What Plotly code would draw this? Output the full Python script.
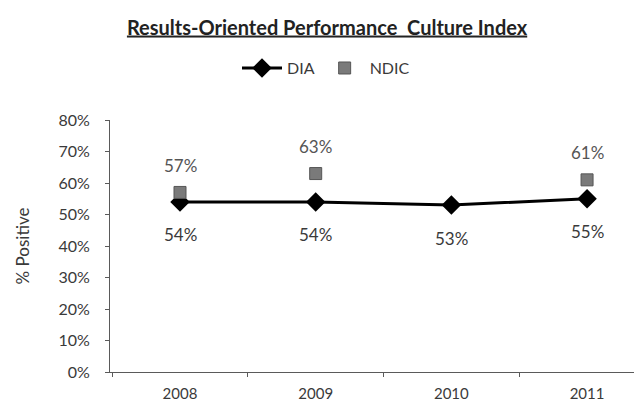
import plotly.graph_objects as go

years = ["2008", "2009", "2010", "2011"]
dia = [0.54, 0.54, 0.53, 0.55]
ndic_years = ["2008", "2009", "2011"]
ndic = [0.57, 0.63, 0.61]
y_ticks = [0, 0.1, 0.2, 0.3, 0.4, 0.5, 0.6, 0.7, 0.8]

FONT = "Lato, 'Open Sans', sans-serif"
TEXT = "#3a3a3a"
AXIS = "#5a5a5a"

fig = go.Figure()

fig.add_trace(go.Scatter(
    x=years, y=dia, name="DIA", mode="lines+markers",
    line=dict(color="#000000", width=3),
    marker=dict(symbol="diamond", size=15, color="#000000"),
))
fig.add_trace(go.Scatter(
    x=ndic_years, y=ndic, name="NDIC", mode="markers",
    marker=dict(symbol="square", size=12, color="#7a7a7a",
                line=dict(color="#555555", width=1)),
))

# data labels: DIA below the points, NDIC above
# (category index used for x, numeric-looking names confuse annotations)
for x, v in zip(years, dia):
    fig.add_annotation(x=years.index(x), y=v, text=f"{v:.0%}", showarrow=False,
                       yshift=-33, font=dict(family=FONT, size=17, color=TEXT))
for x, v in zip(ndic_years, ndic):
    fig.add_annotation(x=years.index(x), y=v, text=f"{v:.0%}", showarrow=False,
                       yshift=27, font=dict(family=FONT, size=17, color="#555555"))

fig.update_layout(
    width=642, height=407,
    margin=dict(l=102, r=0, t=112, b=43),
    paper_bgcolor="white", plot_bgcolor="white",
    font=dict(family=FONT, size=16, color=TEXT),
    title=dict(
        text="<b><u>Results-Oriented Performance  Culture Index</u></b>",
        x=0.497, xref="container", xanchor="center",
        y=0.952, yref="container", yanchor="middle",
        font=dict(family=FONT, size=20, color="#222222"),
    ),
    showlegend=True,
    legend=dict(
        orientation="h", x=0.40, xanchor="center", y=1.206, yanchor="middle",
        font=dict(family=FONT, size=16, color=TEXT),
        itemwidth=40, bgcolor="rgba(0,0,0,0)",
    ),
)

fig.update_xaxes(
    type="category", range=[-0.516, 3.464],
    showline=True, linecolor=AXIS, linewidth=1,
    ticks="outside", tickson="boundaries", ticklen=4, tickcolor=AXIS,
    showgrid=False, zeroline=False,
    ticklabelstandoff=8,
    tickfont=dict(family=FONT, size=15, color=TEXT),
)
fig.update_yaxes(
    range=[0, 0.8], tickvals=y_ticks, tickformat=".0%",
    showline=True, linecolor=AXIS, linewidth=1,
    ticks="outside", ticklen=4, tickcolor=AXIS,
    showgrid=False, zeroline=False,
    ticklabelstandoff=12,
    tickfont=dict(family=FONT, size=16, color=TEXT),
    title=dict(text="% Positive", standoff=24,
               font=dict(family=FONT, size=17, color=TEXT)),
)

fig.write_html("out.html")
